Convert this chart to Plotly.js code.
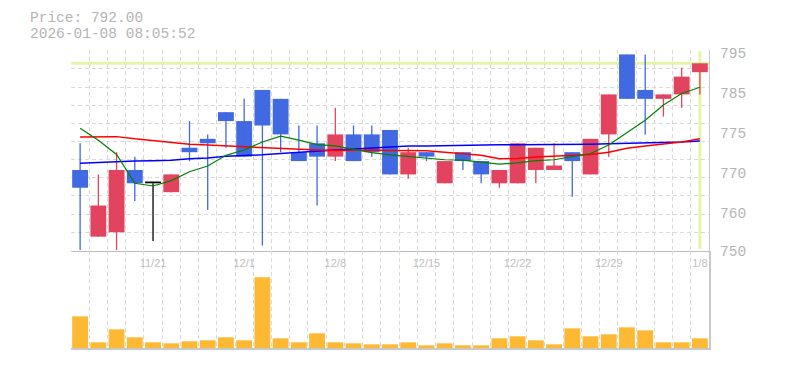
<!DOCTYPE html>
<html><head><meta charset="utf-8">
<script src="https://cdn.plot.ly/plotly-3.0.1.min.js"></script>
<style>html,body{margin:0;padding:0;background:#fff}#chart{width:785px;height:370px}</style>
</head><body><div id="chart"></div>
<script>
// ---- data ----
const dates = ['11/17','11/18','11/19','11/20','11/21','11/25','11/26','11/27','11/28','12/1',
  '12/2','12/3','12/4','12/5','12/8','12/9','12/10','12/11','12/12','12/15',
  '12/16','12/17','12/18','12/19','12/22','12/23','12/24','12/25','12/26','12/29',
  '12/30','1/5','1/6','1/7','1/8'];
const open  = [768,753,754,768,765,763,773,775,781,779,786,784,772,774,771,776,776,777,767,772,765,772,770,765,765,768,768,772,767,776,794,786,784,785,790];
const high  = [774,767,772,771,765,767,779,776,781,784,786,784,778,778,782,778,778,777,773,772,770,772,770,768,774,773,774,772,775,785,794,794,785,791,792];
const low   = [750,753,750,761,752,763,770,759,773,771,751,772,770,760,770,770,771,767,766,770,765,768,765,764,765,765,768,762,767,771,784,776,780,782,785];
const close = [764,760,768,765,765,767,772,774,779,771,778,776,770,771,776,770,772,767,772,771,770,770,767,768,774,773,769,770,775,785,784,784,785,789,792];
const volume = [95,17,56,32,17,14,20,23,32,23,212,29,17,44,17,14,11,11,17,8,14,8,8,29,35,23,11,59,35,41,62,53,17,17,29];
const ma5  = [777.4,774.7,771.5,765.0,764.4,765.6,767.6,768.9,771.3,772.5,774.3,775.6,774.7,773.7,773.4,772.6,771.9,771.4,771.0,770.6,770.3,770.2,769.8,769.3,769.6,770.1,770.3,771.0,771.7,773.6,776.3,779.2,782.6,785.2,786.6];
const ma25 = [775.4,775.4,775.5,775.0,774.6,774.2,773.8,773.6,773.4,773.2,773.1,772.9,772.7,772.5,772.4,772.5,772.5,772.4,772.4,772.3,772.0,771.7,771.3,770.5,770.6,770.9,771.1,771.2,771.5,772.0,772.9,773.4,773.8,774.3,775.0];
const ma75 = [769.5,769.7,769.9,770.0,770.1,770.2,770.5,770.7,771.1,771.2,771.4,771.7,772.0,772.3,772.5,772.7,772.9,773.2,773.4,773.4,773.5,773.6,773.6,773.7,773.7,773.7,773.8,773.8,773.8,773.9,774.0,774.1,774.1,774.3,774.5];
const xTickLabels = ['11/21','12/1','12/8','12/15','12/22','12/29','1/8'];
const yTickText = ['795','785','775','770','760','750'];
const yTickVals = [794.4,785.4,776.4,767.4,758.4,749.8];
const timestamp = '2026-01-08 08:05:52';

// ---- styles ----
const UP='#e2445f', DOWN='#4169e1', FLAT='#000000', VOL='#fdb933', HI='#e4f5a6';
const GRID='#d9d9d9', DASH='4px,3px', TXT='#b4b4b4';
const n = close.length;
const idx = dates.map((d,i)=>i);
const dirColor = idx.map(i => close[i]>open[i]?UP:(close[i]<open[i]?DOWN:FLAT));

const traces = [];
// wicks grouped by colour
[UP,DOWN,FLAT].forEach(col=>{
  const xs=[], ys=[];
  idx.forEach(i=>{ if(dirColor[i]===col){ xs.push(i,i,null); ys.push(low[i],high[i],null);} });
  traces.push({type:'scatter',mode:'lines',x:xs,y:ys,line:{color:col,width:1.3},hoverinfo:'skip',xaxis:'x',yaxis:'y'});
});
// bodies
traces.push({type:'bar',x:idx,base:idx.map(i=>Math.min(open[i],close[i])),
  y:idx.map(i=>Math.max(Math.abs(close[i]-open[i]),0.4)),
  marker:{color:dirColor,line:{width:0}},width:0.87,hoverinfo:'skip',xaxis:'x',yaxis:'y'});
// moving averages
traces.push({type:'scatter',mode:'lines',x:idx,y:ma75,line:{color:'#0000ff',width:1.5},hoverinfo:'skip',xaxis:'x',yaxis:'y'});
traces.push({type:'scatter',mode:'lines',x:idx,y:ma25,line:{color:'#ff0000',width:1.5},hoverinfo:'skip',xaxis:'x',yaxis:'y'});
traces.push({type:'scatter',mode:'lines',x:idx,y:ma5,line:{color:'#008000',width:1.2},hoverinfo:'skip',xaxis:'x',yaxis:'y'});
// volume
traces.push({type:'bar',x:idx,y:volume,marker:{color:VOL,line:{width:0}},width:0.87,hoverinfo:'skip',xaxis:'x2',yaxis:'y2'});
// helpers so overlay axes get drawn
traces.push({type:'scatter',mode:'lines',x:[],y:[],xaxis:'x',yaxis:'y4',hoverinfo:'skip'});
traces.push({type:'scatter',mode:'lines',x:[],y:[],xaxis:'x3',yaxis:'y2',hoverinfo:'skip'});

const yRange=[749.77,794.99];
const xRange=[-0.5,n-0.5];
const gridX = {tickmode:'linear',tick0:-0.5,dtick:1,showticklabels:false,ticks:'',showgrid:true,gridcolor:GRID,griddash:DASH,gridwidth:1,zeroline:false,fixedrange:true};
const last = n-1;

const layout = {
  width:785,height:370,
  margin:{l:71,r:76,t:50,b:20,pad:0},
  paper_bgcolor:'#ffffff',plot_bgcolor:'#ffffff',
  showlegend:false,barmode:'overlay',
  font:{family:'Liberation Mono, monospace',color:TXT},
  xaxis:Object.assign({domain:[0,1],anchor:'y',range:xRange,showline:true,linecolor:'#bdbdbd',linewidth:1},gridX),
  yaxis:{domain:[0.33,1],anchor:'x',side:'right',range:yRange,tickmode:'linear',tick0:749.91,dtick:4.084,
    showticklabels:false,ticks:'',showgrid:true,gridcolor:GRID,griddash:DASH,gridwidth:1,zeroline:false,
    showline:true,linecolor:'#c8c8c8',linewidth:1,fixedrange:true},
  yaxis4:{overlaying:'y',anchor:'x',side:'right',range:yRange,tickmode:'array',tickvals:yTickVals,ticktext:yTickText,
    showgrid:false,zeroline:false,showline:false,ticks:'',ticklabelstandoff:10,
    tickfont:{family:'Liberation Mono, monospace',size:14.5,color:TXT},fixedrange:true},
  xaxis2:Object.assign({domain:[0,1],anchor:'y2',range:xRange,showline:true,linecolor:'#c8c8c8',linewidth:2},gridX),
  yaxis2:{domain:[0.0067,0.33],anchor:'x2',side:'right',range:[0,291],showgrid:false,showticklabels:false,ticks:'',
    zeroline:false,showline:true,linecolor:'#c8c8c8',linewidth:2,fixedrange:true},
  xaxis3:{overlaying:'x2',anchor:'y2',side:'top',range:xRange,tickmode:'array',
    tickvals:xTickLabels.map(l=>dates.indexOf(l)),ticktext:xTickLabels,ticklabelposition:'inside',
    ticks:'',ticklabelstandoff:5,showgrid:false,showline:false,zeroline:false,
    tickfont:{family:'Liberation Sans, Arial, sans-serif',size:11,color:'#c0c0c0'},fixedrange:true},
  shapes:[
    {type:'line',layer:'below',xref:'x',yref:'y',x0:-0.5,x1:n-0.5,y0:close[last],y1:close[last],line:{color:HI,width:3}},
    {type:'line',layer:'below',xref:'x',yref:'y domain',x0:last,x1:last,y0:0.01,y1:0.995,line:{color:HI,width:3}}
  ],
  annotations:[
    {xref:'paper',yref:'paper',x:(28-71)/638,y:(350-18.1)/300,xanchor:'left',yanchor:'middle',showarrow:false,
     text:'Price: '+close[last].toFixed(2),font:{family:'Liberation Mono, monospace',size:14.5,color:TXT}},
    {xref:'paper',yref:'paper',x:(28-71)/638,y:(350-34.1)/300,xanchor:'left',yanchor:'middle',showarrow:false,
     text:timestamp,font:{family:'Liberation Mono, monospace',size:14.5,color:TXT}}
  ]
};
Plotly.newPlot('chart',traces,layout,{staticPlot:true,displayModeBar:false});
</script></body></html>
